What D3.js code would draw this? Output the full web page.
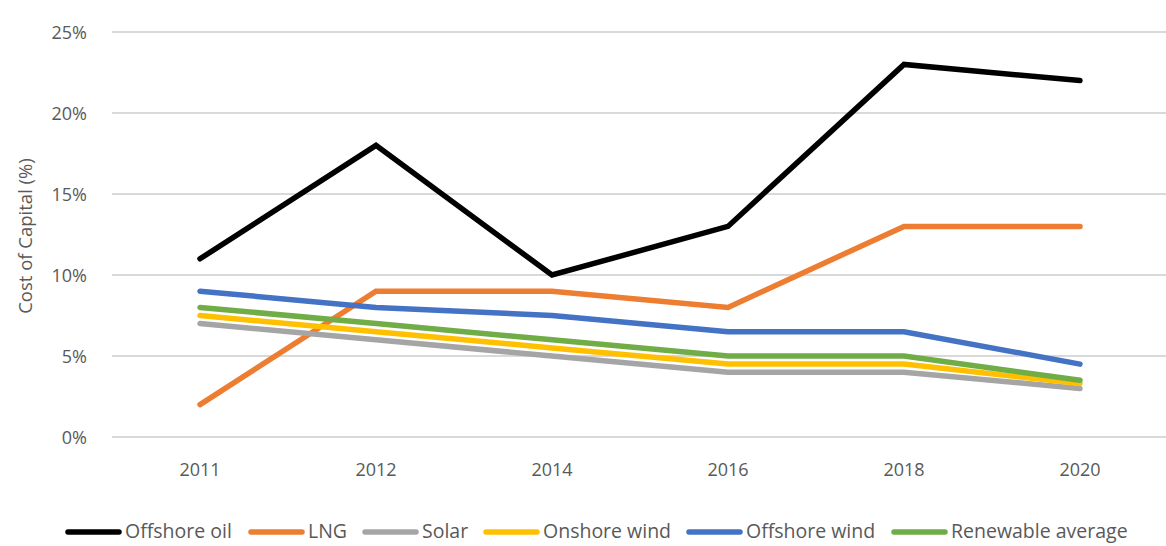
<!DOCTYPE html>
<html><head><meta charset="utf-8">
<script src="https://cdn.jsdelivr.net/npm/d3@7"></script>
<style>body{margin:0;background:#fff;} text{font-family:"Open Sans","Liberation Sans",sans-serif;}</style>
</head><body>
<svg id="c" width="1166" height="546"></svg>
<script>
const years = ["2011","2012","2014","2016","2018","2020"];
const offshoreOil = [11, 18, 10, 13, 23, 22];
const lng = [2, 9, 9, 8, 13, 13];
const solar = [7, 6, 5, 4, 4, 3];
const onshoreWind = [7.5, 6.5, 5.5, 4.5, 4.5, 3.3];
const offshoreWind = [9, 8, 7.5, 6.5, 6.5, 4.5];
const renewableAvg = [8, 7, 6, 5, 5, 3.5];
const yTicks = [0, 5, 10, 15, 20, 25];

const series = [
  {name:"Offshore oil", values:offshoreOil, color:"#000000"},
  {name:"LNG", values:lng, color:"#ED7D31"},
  {name:"Solar", values:solar, color:"#A5A5A5"},
  {name:"Onshore wind", values:onshoreWind, color:"#FFC000"},
  {name:"Offshore wind", values:offshoreWind, color:"#4472C4"},
  {name:"Renewable average", values:renewableAvg, color:"#70AD47"}
];

const svg = d3.select("#c");
const mLeft = 112, mRight = 1168, mTop = 32, mBottom = 437;
const x = d3.scaleBand().domain(years).range([mLeft, mRight]);
const y = d3.scaleLinear().domain([0, 25]).range([mBottom, mTop]);
const textColor = "#595959";

// gridlines
svg.append("g").selectAll("line").data(yTicks).join("line")
  .attr("x1", mLeft).attr("x2", mRight)
  .attr("y1", d => y(d)).attr("y2", d => y(d))
  .attr("stroke", "#d9d9d9").attr("stroke-width", 2);

// y axis labels
const yAxis = d3.axisLeft(y).tickValues(yTicks).tickFormat(d => d + "%").tickSize(0).tickPadding(0);
const ya = svg.append("g").attr("transform", `translate(87,0)`).call(yAxis);
ya.select(".domain").remove();
ya.selectAll("text").attr("fill", textColor).style("font-size", "18px").style("font-family", "'Open Sans',sans-serif").attr("dy", "0.35em");

// x axis labels
const xAxis = d3.axisBottom(x).tickSize(0).tickPadding(0);
const xa = svg.append("g").attr("transform", `translate(0,470)`).call(xAxis);
xa.select(".domain").remove();
xa.selectAll("text").attr("fill", textColor).style("font-size", "18px").style("font-family", "'Open Sans',sans-serif").attr("dy", "0.35em");

// y title
svg.append("text").attr("transform", `translate(32,236) rotate(-90)`)
  .attr("text-anchor", "middle").attr("fill", textColor)
  .style("font-size", "18.5px").text("Cost of Capital (%)");

// lines
const line = d3.line().x((d, i) => x(years[i]) + x.bandwidth()/2).y(d => y(d));
svg.append("g").selectAll("path").data(series).join("path")
  .attr("d", d => line(d.values))
  .attr("fill", "none").attr("stroke", d => d.color)
  .attr("stroke-width", 5.5).attr("stroke-linecap", "round").attr("stroke-linejoin", "miter");

// legend
const legendX = [65, 248, 362, 483, 686, 891];
const lg = svg.append("g").selectAll("g").data(series).join("g")
  .attr("transform", (d, i) => `translate(${legendX[i]},532)`);
lg.append("line").attr("x1", 3).attr("x2", 54).attr("y1", 0).attr("y2", 0)
  .attr("stroke", d => d.color).attr("stroke-width", 5.5).attr("stroke-linecap", "round");
lg.append("text").attr("x", 60).attr("dy", "0.33em").attr("fill", textColor)
  .style("font-size", "19.5px").text(d => d.name);
</script>
</body></html>
